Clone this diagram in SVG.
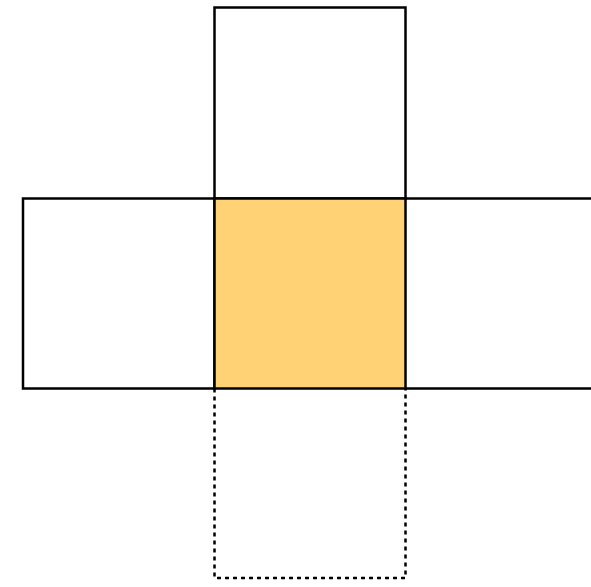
<svg xmlns="http://www.w3.org/2000/svg" width="591" height="587" viewBox="0 0 591 587">
<style>
.sq{fill:none;stroke:#000;stroke-width:2.5}
.dash{fill:none;stroke:#000;stroke-width:2.5;stroke-dasharray:4 4}
</style>
<rect width="591" height="587" fill="#fff"/>
<g id="top"><rect class="sq" x="214.5" y="7.5" width="191" height="191"/></g>
<g id="left"><rect class="sq" x="23" y="198.5" width="191.5" height="190"/></g>
<g id="center"><rect x="214.5" y="198.5" width="191" height="190" fill="#FFD275" stroke="#000" stroke-width="2.5"/></g>
<g id="right"><path class="sq" d="M405.5 198.5 H592 M405.5 388.5 H592"/></g>
<g id="bottom"><path class="dash" d="M214.5 388.5 V578 H405.5 V388.5"/></g>
<g id="connectors"></g>
</svg>
